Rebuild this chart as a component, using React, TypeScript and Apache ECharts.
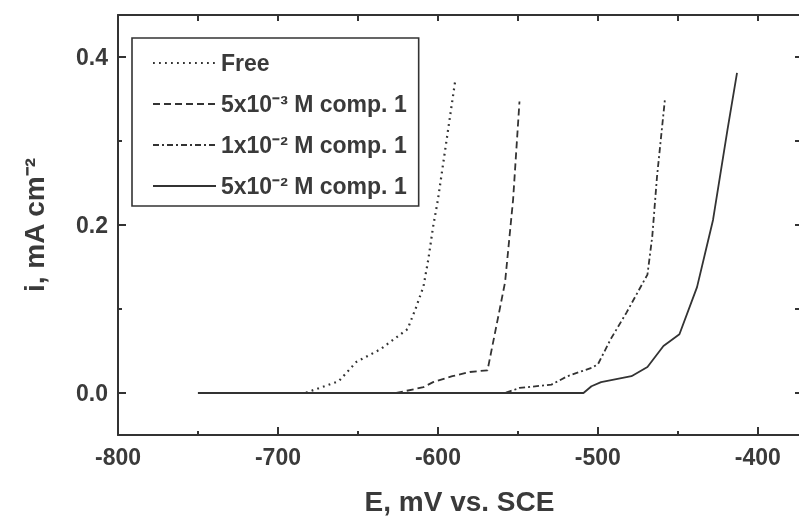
import React, { useEffect, useRef } from "react";
import * as echarts from "echarts";

// ---- data ----
const seriesNames = ["Free", "5x10⁻³ M comp. 1", "1x10⁻² M comp. 1", "5x10⁻² M comp. 1"];

const freeE = [-750, -683, -662, -651, -636, -619, -614, -609, -606, -603, -600, -589];
const freeI = [0, 0, 0.014, 0.037, 0.052, 0.076, 0.1, 0.127, 0.159, 0.198, 0.23, 0.374];

const c5e3E = [-750, -626, -609, -603, -591, -580, -569, -563, -558, -553, -549];
const c5e3I = [0, 0, 0.007, 0.013, 0.02, 0.025, 0.027, 0.084, 0.132, 0.23, 0.347];

const c1e2E = [-750, -558, -549, -529, -519, -504, -500, -492, -482, -469, -466, -463, -458];
const c1e2I = [0, 0, 0.006, 0.01, 0.02, 0.03, 0.034, 0.064, 0.096, 0.141, 0.186, 0.258, 0.351];

const c5e2E = [-750, -509, -504, -498, -479, -469, -459, -449, -438, -428, -419, -413];
const c5e2I = [0, 0, 0.008, 0.013, 0.02, 0.031, 0.056, 0.07, 0.126, 0.206, 0.313, 0.381];

const xTickLabels = [-800, -700, -600, -500, -400];
const yTickLabels = [0, 0.2, 0.4];

const X_MIN = -800;
const X_MAX = -373;
const Y_MIN = -0.05;
const Y_MAX = 0.45;

const FONT = '"Liberation Sans", Arial, Helvetica, sans-serif';
const INK = "#333333";
const TEXT = "#3a3a3a";

const zip = (xs: number[], ys: number[]) => xs.map((x, i) => [x, ys[i]]);

export default function App() {
  const ref = useRef<HTMLDivElement>(null);

  useEffect(() => {
    if (!ref.current) return;
    const chart = echarts.init(ref.current, null, { renderer: "svg" });

    const labelFont = { fontFamily: FONT, fontWeight: "bold" as const, fontSize: 23, color: TEXT };
    const xCommon = () => ({ type: "value", min: X_MIN, max: X_MAX, splitLine: { show: false } });
    const yCommon = () => ({ type: "value", min: Y_MIN, max: Y_MAX, splitLine: { show: false } });
    const line = () => ({ show: true, onZero: false, lineStyle: { color: INK, width: 2 } });
    const noLine = () => ({ show: false, onZero: false });
    const tick = (len: number) => ({ show: true, inside: true, length: len, lineStyle: { color: INK, width: 2 } });

    const dashes: any[] = [[1.8, 4.2], [7, 4], [6, 3, 2, 3], "solid"];
    const datasets = [zip(freeE, freeI), zip(c5e3E, c5e3I), zip(c1e2E, c1e2I), zip(c5e2E, c5e2I)];

    chart.setOption({
      animation: false,
      grid: { left: 118, top: 15, width: 683, height: 420 },
      legend: {
        orient: "vertical",
        left: 132,
        top: 38,
        padding: [13, 12, 8, 20],
        borderColor: INK,
        borderWidth: 1.6,
        itemWidth: 63,
        itemHeight: 14,
        itemGap: 17,
        data: seriesNames,
        itemStyle: { opacity: 0 },
        textStyle: { ...labelFont, lineHeight: 24 },
      },
      xAxis: [
        {
          ...xCommon(),
          splitNumber: 4,
          position: "bottom",
          axisLine: line(),
          axisTick: tick(8),
          axisLabel: { show: true, customValues: xTickLabels, margin: 10, ...labelFont },
          name: "E, mV vs. SCE",
          nameLocation: "middle",
          nameGap: 52,
          nameTextStyle: { fontFamily: FONT, fontWeight: "bold", fontSize: 28, color: TEXT },
        },
        { ...xCommon(), splitNumber: 8, position: "bottom", axisLine: noLine(), axisTick: tick(4), axisLabel: { show: false } },
        { ...xCommon(), splitNumber: 8, position: "top", axisLine: line(), axisTick: tick(6), axisLabel: { show: false } },
      ],
      yAxis: [
        {
          ...yCommon(),
          splitNumber: 3,
          position: "left",
          axisLine: line(),
          axisTick: tick(8),
          axisLabel: {
            show: true,
            customValues: yTickLabels,
            margin: 10,
            formatter: (v: number) => v.toFixed(1),
            ...labelFont,
          },
          name: "i, mA cm⁻²",
          nameLocation: "middle",
          nameRotate: 90,
          nameGap: 70,
          nameTextStyle: { fontFamily: FONT, fontWeight: "bold", fontSize: 28, color: TEXT },
        },
        { ...yCommon(), splitNumber: 5, position: "left", axisLine: noLine(), axisTick: tick(4), axisLabel: { show: false } },
        { ...yCommon(), splitNumber: 5, position: "right", axisLine: line(), axisTick: tick(6), axisLabel: { show: false } },
      ],
      series: seriesNames.map((name, k) => ({
        name,
        type: "line",
        xAxisIndex: 0,
        yAxisIndex: 0,
        symbol: "none",
        data: datasets[k],
        lineStyle: { color: INK, width: k === 0 ? 2.2 : 1.8, type: dashes[k] },
        itemStyle: { color: INK },
      })),
    });

    return () => chart.dispose();
  }, []);

  return <div ref={ref} style={{ position: "fixed", left: 0, top: 0, width: 805, height: 523 }} />;
}
